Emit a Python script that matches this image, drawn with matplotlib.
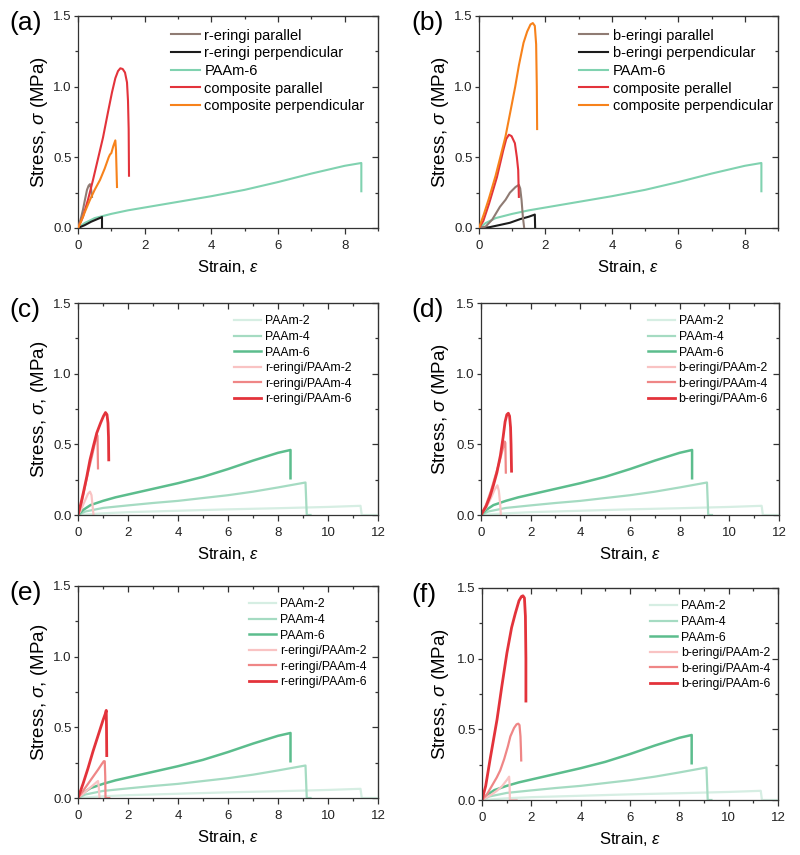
import matplotlib
matplotlib.use("Agg")
import matplotlib.pyplot as plt
from matplotlib.ticker import MultipleLocator

plt.rcParams["font.family"] = ["Liberation Sans", "DejaVu Sans"]
plt.rcParams["mathtext.fontset"] = "custom"
plt.rcParams["mathtext.rm"] = "Liberation Sans"
plt.rcParams["mathtext.it"] = "Liberation Sans:italic"

# === Datos (deformacion, esfuerzo en MPa) ===
# hidrogeles puros (iguales en todos los paneles)
paam6_x = [0, 0.2, 0.5, 1, 1.5, 2, 3, 4, 5, 6, 7, 8, 8.5, 8.5]
paam6_y = [0, 0.035, 0.07, 0.1, 0.125, 0.145, 0.185, 0.225, 0.27, 0.325, 0.385, 0.44, 0.46, 0.26]
paam4_x = [0, 0.3, 1, 2, 3, 4, 5, 6, 7, 8, 9.1, 9.15, 9.3]
paam4_y = [0, 0.025, 0.05, 0.068, 0.085, 0.1, 0.12, 0.14, 0.165, 0.195, 0.23, 0.0, 0.0]
paam2_x = [0, 1, 2, 4, 6, 8, 10, 11.3, 11.35, 12]
paam2_y = [0, 0.012, 0.02, 0.03, 0.04, 0.048, 0.057, 0.065, 0.0, 0.0]

# (a) r-eringi
ra_par_x = [0, 0.05, 0.1, 0.15, 0.2, 0.27, 0.32, 0.36, 0.39, 0.42]
ra_par_y = [0, 0.04, 0.08, 0.13, 0.19, 0.27, 0.3, 0.31, 0.28, 0.22]
ra_perp_x = [0, 0.2, 0.4, 0.6, 0.7, 0.72, 0.72]
ra_perp_y = [0, 0.02, 0.045, 0.065, 0.075, 0.078, 0.0]
ra_cpar_x = [0, 0.15, 0.3, 0.45, 0.6, 0.75, 0.9, 1.02, 1.12, 1.2, 1.27, 1.34, 1.41, 1.47, 1.5, 1.52, 1.53]
ra_cpar_y = [0, 0.08, 0.2, 0.34, 0.49, 0.64, 0.82, 0.96, 1.06, 1.11, 1.13, 1.125, 1.1, 1.03, 0.9, 0.7, 0.37]
ra_cperp_x = [0, 0.1, 0.2, 0.36, 0.5, 0.66, 0.8, 0.92, 0.96, 1.0, 1.06, 1.12, 1.14, 1.17]
ra_cperp_y = [0, 0.05, 0.11, 0.2, 0.27, 0.34, 0.42, 0.5, 0.52, 0.53, 0.58, 0.62, 0.55, 0.29]

# (b) b-eringi
bb_par_x = [0, 0.2, 0.4, 0.63, 0.8, 0.93, 1.1, 1.2, 1.24, 1.28, 1.32, 1.36]
bb_par_y = [0, 0.01, 0.06, 0.15, 0.2, 0.25, 0.29, 0.305, 0.28, 0.2, 0.08, 0.0]
bb_perp_x = [0, 0.3, 0.6, 0.93, 1.24, 1.5, 1.68, 1.69]
bb_perp_y = [0, 0.005, 0.02, 0.037, 0.063, 0.08, 0.095, 0.0]
bb_cpar_x = [0, 0.13, 0.3, 0.54, 0.73, 0.82, 0.9, 0.98, 1.08, 1.14, 1.18, 1.2]
bb_cpar_y = [0, 0.05, 0.17, 0.36, 0.55, 0.63, 0.66, 0.65, 0.6, 0.5, 0.41, 0.22]
bb_cperp_x = [0, 0.15, 0.3, 0.5, 0.64, 0.8, 0.95, 1.09, 1.2, 1.34, 1.45, 1.55, 1.62, 1.68, 1.72, 1.74, 1.75]
bb_cperp_y = [0, 0.1, 0.21, 0.37, 0.5, 0.65, 0.83, 1.0, 1.15, 1.31, 1.39, 1.44, 1.45, 1.43, 1.3, 1.0, 0.7]

# (c) r-eringi/PAAm
rc2_x = [0, 0.1, 0.2, 0.3, 0.4, 0.48, 0.54, 0.58, 0.62]
rc2_y = [0, 0.03, 0.07, 0.11, 0.15, 0.165, 0.14, 0.07, 0.0]
rc4_x = [0, 0.15, 0.28, 0.4, 0.55, 0.65, 0.75, 0.78, 0.8]
rc4_y = [0, 0.09, 0.2, 0.3, 0.41, 0.49, 0.57, 0.56, 0.33]
rc6_x = [0, 0.1, 0.21, 0.35, 0.48, 0.62, 0.75, 0.9, 1.02, 1.1, 1.16, 1.2, 1.22, 1.23]
rc6_y = [0, 0.07, 0.155, 0.27, 0.39, 0.49, 0.58, 0.65, 0.7, 0.725, 0.71, 0.65, 0.55, 0.39]

# (d) b-eringi/PAAm
bd2_x = [0, 0.2, 0.4, 0.55, 0.66, 0.72, 0.77, 0.8]
bd2_y = [0, 0.05, 0.12, 0.18, 0.21, 0.17, 0.08, 0.0]
bd4_x = [0, 0.2, 0.4, 0.6, 0.75, 0.88, 0.95, 0.98, 1.0]
bd4_y = [0, 0.07, 0.17, 0.29, 0.38, 0.47, 0.52, 0.51, 0.3]
bd6_x = [0, 0.2, 0.36, 0.5, 0.64, 0.78, 0.89, 0.97, 1.04, 1.1, 1.15, 1.19, 1.21, 1.23]
bd6_y = [0, 0.06, 0.13, 0.21, 0.3, 0.42, 0.55, 0.66, 0.71, 0.72, 0.7, 0.62, 0.5, 0.31]

# (e) r-eringi/PAAm
re2_x = [0, 0.2, 0.4, 0.6, 0.75, 0.8, 0.83, 0.86]
re2_y = [0, 0.03, 0.06, 0.09, 0.113, 0.12, 0.08, 0.0]
re4_x = [0, 0.2, 0.4, 0.6, 0.8, 0.95, 1.03, 1.07, 1.09, 1.1, 1.25]
re4_y = [0, 0.05, 0.1, 0.15, 0.2, 0.24, 0.26, 0.26, 0.15, 0.0, 0.0]
re6_x = [0, 0.2, 0.4, 0.6, 0.8, 1.0, 1.1, 1.13, 1.14, 1.15]
re6_y = [0, 0.1, 0.21, 0.33, 0.44, 0.55, 0.6, 0.62, 0.5, 0.3]

# (f) b-eringi/PAAm
bf2_x = [0, 0.2, 0.4, 0.6, 0.8, 1.0, 1.1, 1.12, 1.13, 1.4]
bf2_y = [0, 0.02, 0.04, 0.065, 0.095, 0.14, 0.165, 0.1, 0.0, 0.0]
bf4_x = [0, 0.2, 0.4, 0.6, 0.74, 0.9, 1.05, 1.15, 1.3, 1.4, 1.47, 1.52, 1.56, 1.58, 1.59]
bf4_y = [0, 0.04, 0.1, 0.16, 0.21, 0.29, 0.38, 0.45, 0.51, 0.535, 0.54, 0.53, 0.45, 0.35, 0.28]
bf6_x = [0, 0.15, 0.34, 0.5, 0.61, 0.8, 1.01, 1.2, 1.35, 1.5, 1.6, 1.66, 1.72, 1.76, 1.78, 1.78]
bf6_y = [0, 0.1, 0.3, 0.46, 0.57, 0.8, 1.04, 1.22, 1.32, 1.41, 1.44, 1.445, 1.43, 1.3, 1.0, 0.7]

# === Colores ===
C_BROWN = "#8f7b73"
C_BLACK = "#1c1c1c"
C_MINT = "#80d2b0"
C_RED = "#e3333b"
C_ORANGE = "#f7821b"
C_G2, C_G4, C_G6 = "#d6eee3", "#a5dbc2", "#5cbd8d"
C_R2, C_R4, C_R6 = "#f9c3c3", "#ef8686", "#e3333b"

fig = plt.figure(figsize=(8, 8.55), dpi=100)

# posiciones de los ejes en pixeles: (izq, arriba, ancho, alto)
W, H = 800, 855
cajas = {
    "a": (78, 16, 300, 212), "b": (479, 16, 299, 212),
    "c": (78, 303, 300, 212), "d": (481, 303, 298, 212),
    "e": (78, 586, 300, 212), "f": (482, 588, 296, 212),
}


def nuevo_eje(letra, xmax, ylabel):
    x0, y0, w, h = cajas[letra]
    ax = fig.add_axes([x0 / W, 1 - (y0 + h) / H, w / W, h / H])
    ax.set_xlim(0, xmax)
    ax.set_ylim(0, 1.5)
    ax.xaxis.set_major_locator(MultipleLocator(2))
    ax.xaxis.set_minor_locator(MultipleLocator(1))
    ax.yaxis.set_major_locator(MultipleLocator(0.5))
    ax.yaxis.set_minor_locator(MultipleLocator(0.25))
    ax.yaxis.set_major_formatter(lambda v, p: f"{v:.1f}")
    ax.tick_params(which="both", direction="out", labelsize=9.5, width=0.9,
                   colors="#333333", labelcolor="#222222")
    ax.tick_params(axis="x", which="major", length=4, pad=4.5)
    ax.tick_params(axis="y", which="major", length=3, pad=1.5)
    ax.tick_params(which="minor", length=2.5)
    for s in ax.spines.values():
        s.set_linewidth(0.9)
        s.set_color("#333333")
    # ticks hacia adentro arriba y a la derecha
    top = ax.secondary_xaxis("top")
    top.xaxis.set_major_locator(MultipleLocator(2))
    top.xaxis.set_minor_locator(MultipleLocator(1))
    top.tick_params(which="both", direction="in", labeltop=False, width=0.9, colors="#333333")
    top.tick_params(which="major", length=4.5)
    top.tick_params(which="minor", length=2.5)
    der = ax.secondary_yaxis("right")
    der.yaxis.set_major_locator(MultipleLocator(0.5))
    der.yaxis.set_minor_locator(MultipleLocator(0.25))
    der.tick_params(which="both", direction="in", labelright=False, width=0.9, colors="#333333")
    der.tick_params(which="major", length=4.5)
    der.tick_params(which="minor", length=2.5)

    ax.set_xlabel(r"Strain, $\mathit{\varepsilon}$", fontsize=12)
    ax.set_ylabel(ylabel, fontsize=13.5)
    ax.xaxis.set_label_coords(0.5, -0.14)
    ax.yaxis.set_label_coords((50 - x0 if x0 < 400 else 451 - x0) / w, 0.5)
    fig.text((9 if x0 < 400 else 411) / W, 1 - (y0 + 7) / H, f"({letra})",
             fontsize=19, ha="left", va="center")
    return ax


Y1 = r"Stress, $\sigma$ (MPa)"
Y2 = r"Stress, $\sigma$, (MPa)"
orden = [2, 1, 0, 3, 4]

# (a)
ax = nuevo_eje("a", 9, Y1)
ax.plot(paam6_x, paam6_y, color=C_MINT, lw=1.5, label="PAAm-6", zorder=2)
ax.plot(ra_perp_x, ra_perp_y, color=C_BLACK, lw=1.5, label="r-eringi perpendicular", zorder=3)
ax.plot(ra_par_x, ra_par_y, color=C_BROWN, lw=1.5, label="r-eringi parallel", zorder=3)
ax.plot(ra_cpar_x, ra_cpar_y, color=C_RED, lw=1.5, label="composite parallel", zorder=4)
ax.plot(ra_cperp_x, ra_cperp_y, color=C_ORANGE, lw=1.5, label="composite perpendicular", zorder=5)
h, l = ax.get_legend_handles_labels()
ax.legend([h[i] for i in orden], [l[i] for i in orden], loc="upper left",
          bbox_to_anchor=(0.285, 0.975), frameon=False, fontsize=10.5, borderpad=0,
          handlelength=2.0, handletextpad=0.3, labelspacing=0.25)

# (b)
ax = nuevo_eje("b", 9, Y1)
ax.plot(paam6_x, paam6_y, color=C_MINT, lw=1.5, label="PAAm-6", zorder=2)
ax.plot(bb_perp_x, bb_perp_y, color=C_BLACK, lw=1.5, label="b-eringi perpendicular", zorder=3)
ax.plot(bb_par_x, bb_par_y, color=C_BROWN, lw=1.5, label="b-eringi parallel", zorder=3)
ax.plot(bb_cpar_x, bb_cpar_y, color=C_RED, lw=1.5, label="composite perallel", zorder=4)
ax.plot(bb_cperp_x, bb_cperp_y, color=C_ORANGE, lw=1.5, label="composite perpendicular", zorder=5)
h, l = ax.get_legend_handles_labels()
ax.legend([h[i] for i in orden], [l[i] for i in orden], loc="upper left",
          bbox_to_anchor=(0.31, 0.975), frameon=False, fontsize=10.5, borderpad=0,
          handlelength=2.0, handletextpad=0.3, labelspacing=0.25)


def panel_serie(letra, ylabel, curvas, nombre, lx, ly):
    ax = nuevo_eje(letra, 12, ylabel)
    ax.plot(paam2_x, paam2_y, color=C_G2, lw=1.6, label="PAAm-2")
    ax.plot(paam4_x, paam4_y, color=C_G4, lw=1.6, label="PAAm-4")
    ax.plot(paam6_x, paam6_y, color=C_G6, lw=1.8, label="PAAm-6")
    for (xs, ys), col, n in zip(curvas, (C_R2, C_R4, C_R6), (2, 4, 6)):
        ax.plot(xs, ys, color=col, lw=1.6 if n < 6 else 2.0, label=f"{nombre}/PAAm-{n}")
    ax.legend(loc="upper left", bbox_to_anchor=(lx, ly), frameon=False, fontsize=8.8,
              borderpad=0, handlelength=2.2, handletextpad=0.3, labelspacing=0.29)


panel_serie("c", Y2, [(rc2_x, rc2_y), (rc4_x, rc4_y), (rc6_x, rc6_y)], "r-eringi", 0.5, 0.97)
panel_serie("d", Y1, [(bd2_x, bd2_y), (bd4_x, bd4_y), (bd6_x, bd6_y)], "b-eringi", 0.54, 0.97)
panel_serie("e", Y2, [(re2_x, re2_y), (re4_x, re4_y), (re6_x, re6_y)], "r-eringi", 0.55, 0.97)
panel_serie("f", Y1, [(bf2_x, bf2_y), (bf4_x, bf4_y), (bf6_x, bf6_y)], "b-eringi", 0.548, 0.97)

fig.savefig("out.png", dpi=100, facecolor="white")
